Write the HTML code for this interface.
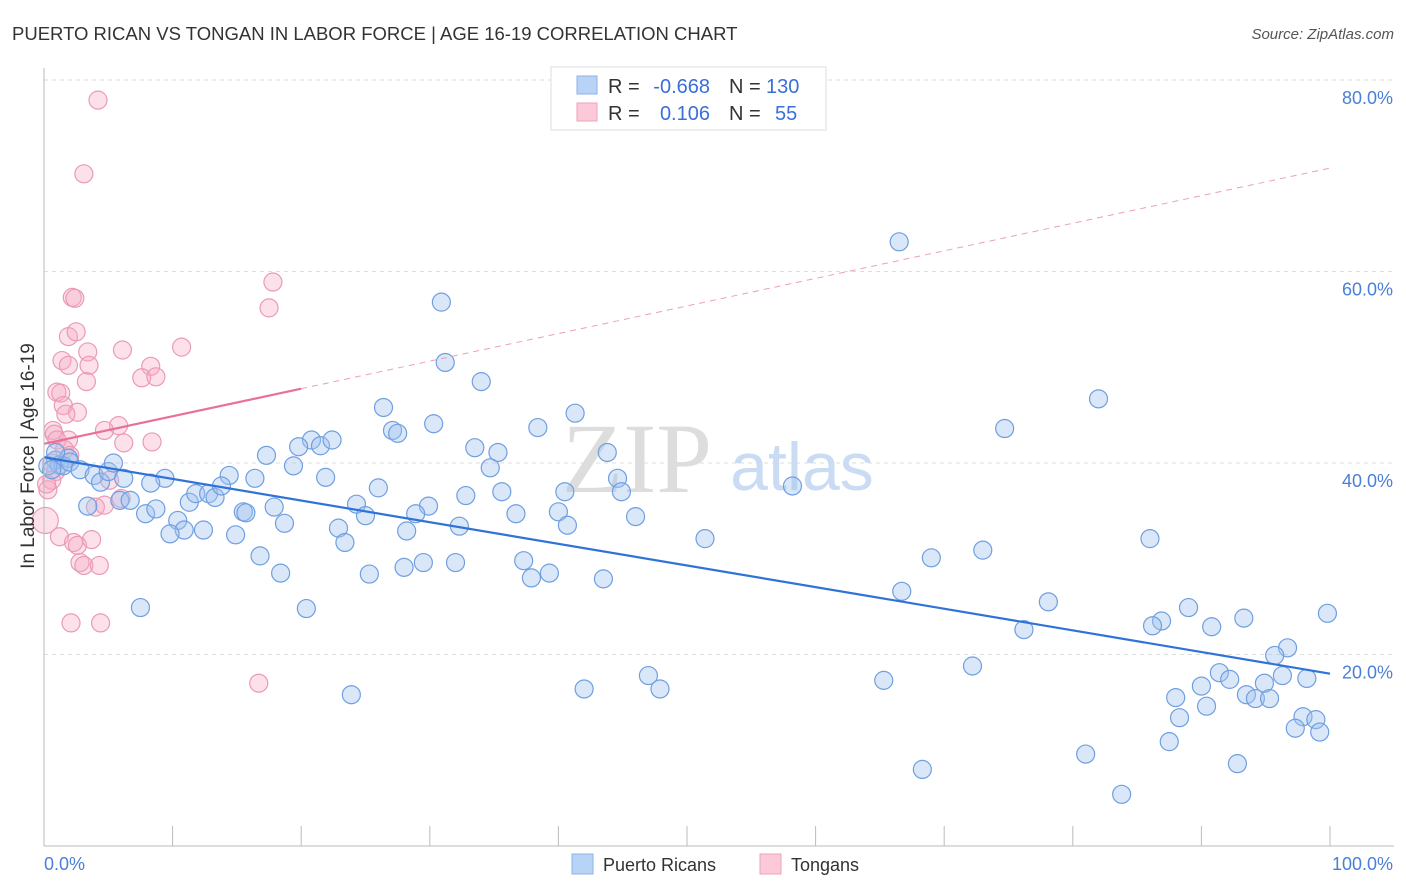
<!DOCTYPE html>
<html><head><meta charset="utf-8"><style>
body{margin:0;background:#fff;font-family:"Liberation Sans",sans-serif;}
svg{display:block}
</style></head><body>
<svg id="c" width="1406" height="892" xmlns="http://www.w3.org/2000/svg">
<text x="12" y="40" font-size="18.5" fill="#333">PUERTO RICAN VS TONGAN IN LABOR FORCE | AGE 16-19 CORRELATION CHART</text>
<text x="1394" y="39" font-size="15" fill="#555" font-style="italic" text-anchor="end">Source: ZipAtlas.com</text>
<g id="grid"></g>
<g>
<text x="637" y="492" font-size="100" font-family="Liberation Serif,serif" fill="#ddd" text-anchor="middle">ZIP</text>
<text x="802" y="490" font-size="68" fill="#c9dcf3" text-anchor="middle">atlas</text>
</g>
<g id="pts"></g>
<g id="lines"></g>
<g id="axes"></g>
<text transform="translate(34,456) rotate(-90)" font-size="19" fill="#333" text-anchor="middle">In Labor Force | Age 16-19</text>
<g>
<rect x="551" y="67" width="275" height="63" fill="#fff" stroke="#ddd"/>
<rect x="577" y="76" width="20" height="18" fill="#b8d3f5" stroke="#8cb3e8"/>
<rect x="577" y="103" width="20" height="18" fill="#fbc9d8" stroke="#efa2bb"/>
<g font-size="20">
<text x="608" y="93" fill="#333">R =</text><text x="710" y="93" fill="#3a6fd8" text-anchor="end">-0.668</text>
<text x="729" y="93" fill="#333">N =</text><text x="766" y="93" fill="#3a6fd8">130</text>
<text x="608" y="120" fill="#333">R =</text><text x="710" y="120" fill="#3a6fd8" text-anchor="end">0.106</text>
<text x="729" y="120" fill="#333">N =</text><text x="775" y="120" fill="#3a6fd8">55</text>
</g></g>
<g font-size="18" fill="#333">
<rect x="572" y="854" width="21" height="20" fill="#b8d3f5" stroke="#8cb3e8"/>
<text x="603" y="871">Puerto Ricans</text>
<rect x="760" y="854" width="21" height="20" fill="#fbc9d8" stroke="#efa2bb"/>
<text x="791" y="871">Tongans</text>
</g>
</svg>
<script>
const xTicks=[0,10,20,30,40,50,60,70,80,90,100];
const yTicks=[20,40,60,80];
const yTickLabels=["20.0%","40.0%","60.0%","80.0%"];
const blueX=[66.5,30.9,31.2,34.0,82.0,26.4,41.3,30.3,27.1,27.5,38.4,74.7,20.8,19.8,21.5,22.4,33.5,35.3,43.8,17.3,19.4,34.7,44.6,21.9,14.4,16.4,26.0,32.8,35.6,40.5,44.9,58.2,24.3,17.9,29.9,28.9,25.0,40.0,36.7,46.0,32.3,40.7,28.2,22.9,23.4,51.4,86.0,73.0,69.0,37.3,28.0,29.5,32.0,37.9,39.3,43.5,25.3,18.4,16.8,66.7,78.1,89.0,93.3,86.9,86.2,90.8,76.2,99.8,20.4,7.5,96.7,95.7,72.2,91.4,92.2,98.2,96.3,94.9,47.0,65.3,90.0,42.0,47.9,23.9,88.0,93.5,94.2,95.3,90.4,88.3,97.9,98.9,97.3,99.2,87.5,81.0,92.8,68.3,83.8,0.9,1.2,1.9,1.5,0.3,2.0,2.8,3.9,4.4,5.0,5.4,6.2,0.9,0.6,3.4,5.9,6.7,7.9,8.7,9.4,8.3,10.4,11.3,11.8,12.8,13.3,13.8,15.5,15.7,18.7,14.9,12.4,10.9,9.8];
const blueY=[63.1,56.8,50.5,48.5,46.7,45.8,45.2,44.1,43.4,43.1,43.7,43.6,42.4,41.7,41.8,42.4,41.6,41.1,41.1,40.8,39.7,39.5,38.4,38.5,38.7,38.4,37.4,36.6,37.0,37.0,37.0,37.6,35.7,35.4,35.5,34.7,34.5,34.9,34.7,34.4,33.4,33.5,32.9,33.2,31.7,32.1,32.1,30.9,30.1,29.8,29.1,29.6,29.6,28.0,28.5,27.9,28.4,28.5,30.3,26.6,25.5,24.9,23.8,23.5,23.0,22.9,22.6,24.3,24.8,24.9,20.7,19.9,18.8,18.1,17.4,17.5,17.8,17.0,17.8,17.3,16.7,16.4,16.4,15.8,15.5,15.8,15.4,15.4,14.6,13.4,13.5,13.2,12.3,11.9,10.9,9.6,8.6,8.0,5.4,40.3,39.8,40.5,39.7,39.7,40.1,39.3,38.7,38.0,39.1,40.0,38.4,41.1,39.3,35.5,36.1,36.1,34.7,35.2,38.4,37.9,34.0,35.9,36.8,36.8,36.4,37.6,34.9,34.8,33.7,32.5,33.0,33.0,32.6];
const pinkX=[4.2,3.1,17.8,2.2,2.4,17.5,1.9,2.5,6.1,10.7,3.4,1.4,1.9,3.5,8.3,7.6,8.7,3.3,1.0,1.3,1.5,2.6,1.7,5.8,4.7,0.7,0.8,6.2,8.4,1.9,1.0,1.6,2.0,0.6,0.9,0.6,0.3,0.2,5.1,4.0,4.7,6.0,0.1,1.2,2.3,2.6,3.7,2.8,3.1,4.3,2.1,4.4,16.7];
const pinkY=[77.9,70.2,58.9,57.3,57.2,56.2,53.2,53.7,51.8,52.1,51.6,50.7,50.2,50.2,50.1,48.9,49.0,48.5,47.4,47.3,46.0,45.3,45.1,43.9,43.4,43.4,43.0,42.1,42.2,42.4,42.4,41.4,40.8,40.0,39.1,38.2,37.2,37.8,38.2,35.4,35.6,36.3,34.0,32.3,31.7,31.4,32.0,29.6,29.3,29.3,23.3,23.3,17.0];
const blueTrend=[40.6,18.0];
const pinkTrend=[42.0,70.8];
const pinkSolidEnd=20;
const NS="http://www.w3.org/2000/svg";
const L=44,R=1330,T=80,B=846;
const xs=v=>L+(R-L)*v/100, ys=v=>B-(B-T)*v/80;
function mk(tag,attrs,parent){const e=document.createElementNS(NS,tag);for(const k in attrs)e.setAttribute(k,attrs[k]);parent.appendChild(e);return e;}
const grid=document.getElementById('grid'),axes=document.getElementById('axes'),pts=document.getElementById('pts'),lines=document.getElementById('lines');
yTicks.forEach((t,i)=>{
 const g=mk('line',{x1:L,x2:1394,y1:ys(t),y2:ys(t),stroke:'#ddd','stroke-dasharray':'4,4'},grid);
 
 
 const tx=mk('text',{x:1393,y:ys(t)+24,'font-size':18,fill:'#4a7fd8','text-anchor':'end'},axes);
 tx.textContent=yTickLabels[i];
 
 
});
const ya=mk('line',{x1:L,x2:L,y1:68,y2:B,stroke:'#bbb'},axes);


const xa=mk('line',{x1:L,x2:1394,y1:B,y2:B,stroke:'#bbb'},axes);


xTicks.forEach(t=>{
 const k=mk('line',{x1:xs(t),x2:xs(t),y1:826,y2:B,stroke:'#bbb'},axes);
 
 
});
const x0=mk('text',{x:44,y:870,'font-size':18,fill:'#4a7fd8'},axes);x0.textContent='0.0%';


const x1=mk('text',{x:1393,y:870,'font-size':18,fill:'#4a7fd8','text-anchor':'end'},axes);x1.textContent='100.0%';


pinkX.forEach((v,i)=>{
 const r=(v<0.5&&pinkY[i]<35)?13:9;
 const c=mk('circle',{cx:xs(v),cy:ys(pinkY[i]),r:r,fill:'rgba(247,170,195,0.35)',stroke:'#eb9ab5','stroke-width':1.2},pts);
 
 
});
blueX.forEach((v,i)=>{
 const c=mk('circle',{cx:xs(v),cy:ys(blueY[i]),r:9,fill:'rgba(160,195,240,0.4)',stroke:'#6f9fe0','stroke-width':1.2},pts);
 
 
});
const bl=mk('line',{x1:xs(0),y1:ys(blueTrend[0]),x2:xs(100),y2:ys(blueTrend[1]),stroke:'#2f72d8','stroke-width':2.2},lines);


const pm=pinkTrend[0]+(pinkTrend[1]-pinkTrend[0])*pinkSolidEnd/100;
const pl=mk('line',{x1:xs(0),y1:ys(pinkTrend[0]),x2:xs(pinkSolidEnd),y2:ys(pm),stroke:'#e8709a','stroke-width':2.2},lines);


const pd=mk('line',{x1:xs(pinkSolidEnd),y1:ys(pm),x2:xs(100),y2:ys(pinkTrend[1]),stroke:'#eaa0b8','stroke-width':1,'stroke-dasharray':'6,5'},lines);


</script>
</body></html>
